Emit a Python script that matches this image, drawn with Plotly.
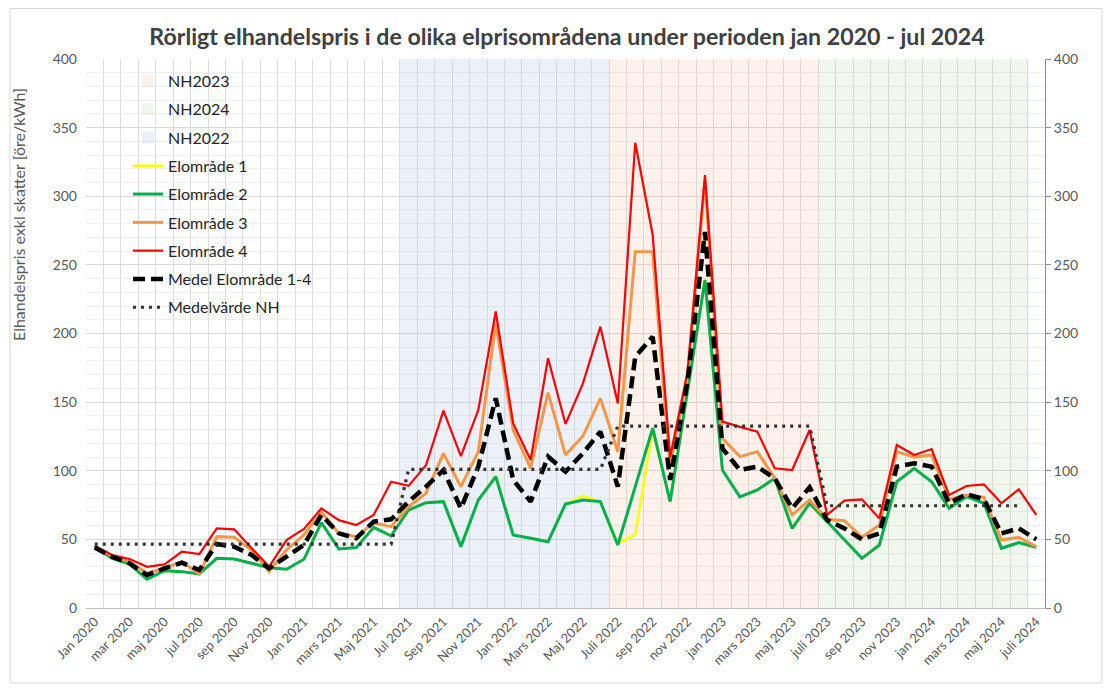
import plotly.graph_objects as go

# ---------------- data ----------------
sv_months = ["jan", "feb", "mar", "apr", "maj", "jun", "jul", "aug", "sep", "okt", "nov", "dec"]
months = [f"{sv_months[m]} {y}" for y in range(2020, 2025) for m in range(12)][:55]  # jan 2020 .. jul 2024

tick_labels = [
    "Jan 2020", "mar 2020", "maj 2020", "jul 2020", "sep 2020", "Nov 2020",
    "Jan 2021", "mars 2021", "Maj 2021", "Jul 2021", "Sep 2021", "Nov 2021",
    "Jan 2022", "Mars 2022", "Maj 2022", "Juli 2022", "sep 2022", "nov 2022",
    "jan 2023", "mars 2023", "maj 2023", "juli 2023", "sep 2023", "nov 2023",
    "jan 2024", "mars 2024", "maj 2024", "juli 2024",
]

elomrade1 = [44.7, 36.2, 32.0, 20.9, 27.2, 26.5, 24.8, 36.2, 35.7, 32.5,
             29.4, 28.2, 35.5, 62.2, 43.0, 44.0, 58.8, 52.5, 71.4, 76.7,
             77.5, 44.7, 78.7, 96.5, 53.2, 50.8, 48.3, 75.8, 81.6, 77.5,
             47.0, 53.2, 129.7, 77.5, 158.0, 239.0, 100.5, 81.0, 86.0, 94.5,
             58.0, 76.3, 63.0, 49.5, 36.2, 45.9, 92.0, 101.8, 92.0, 73.5,
             81.1, 76.3, 43.5, 47.6, 44.2]
elomrade2 = [44.7, 36.2, 32.0, 20.9, 27.2, 26.5, 24.8, 36.2, 35.7, 32.5,
             29.4, 28.2, 35.5, 62.2, 43.0, 44.0, 58.8, 52.5, 71.4, 76.7,
             77.5, 44.7, 78.7, 95.7, 53.2, 50.8, 48.3, 75.8, 78.7, 77.5,
             45.9, 88.4, 131.0, 77.5, 158.0, 239.0, 100.5, 81.0, 86.0, 94.5,
             58.0, 76.3, 63.0, 49.5, 36.2, 45.9, 92.0, 101.8, 92.0, 72.6,
             81.1, 76.3, 43.5, 47.6, 44.2]
elomrade3 = [44.7, 37.9, 33.8, 25.3, 28.9, 33.8, 24.8, 52.0, 51.5, 42.0,
             26.5, 42.3, 53.2, 70.0, 54.4, 52.0, 62.0, 59.3, 73.8, 83.5,
             112.7, 88.4, 113.9, 207.4, 129.7, 101.8, 156.9, 111.5, 125.3, 152.8,
             113.9, 259.6, 259.6, 103.0, 170.0, 312.0, 123.6, 110.3, 113.9, 94.5,
             67.8, 78.7, 64.6, 63.6, 51.5, 60.5, 113.9, 109.8, 111.5, 79.2,
             82.3, 80.6, 49.5, 51.5, 44.7]
elomrade4 = [45.4, 38.6, 35.7, 30.0, 31.8, 41.0, 39.3, 58.0, 57.3, 44.0,
             30.0, 49.5, 57.6, 72.6, 64.0, 60.5, 67.8, 92.0, 89.0, 104.0,
             143.8, 110.7, 144.3, 216.0, 134.5, 107.8, 182.0, 134.0, 163.7, 205.0,
             149.0, 339.0, 272.0, 110.0, 172.0, 315.5, 135.8, 132.0, 128.5, 101.8,
             100.5, 129.7, 67.8, 78.2, 79.2, 65.3, 118.8, 111.5, 115.8, 82.3,
             88.9, 90.1, 76.3, 86.5, 67.8]
medel = [44.0, 37.4, 32.5, 24.0, 28.9, 33.0, 27.7, 46.6, 44.7, 38.6,
         28.9, 37.4, 45.9, 67.8, 54.4, 50.8, 63.0, 64.6, 77.5, 88.4,
         100.5, 72.6, 103.0, 152.8, 93.3, 77.5, 110.3, 99.3, 112.7, 128.5,
         88.4, 183.0, 197.7, 93.3, 165.0, 274.0, 116.3, 100.5, 103.0, 94.5,
         72.6, 88.0, 64.1, 58.0, 50.0, 54.4, 103.0, 105.4, 103.0, 76.3,
         83.0, 79.2, 54.4, 58.0, 50.0]
medel_nh = [46.5] * 18 + [101.0] * 12 + [132.5] * 12 + [74.5] * 12 + [None]

nh2022_months = months[18:30]
nh2023_months = months[30:42]
nh2024_months = months[42:54]
band_height = 400

# ---------------- figure ----------------
W, H = 1096, 676          # page body has an 8px margin
PL, PT, PW, PH = 78, 51, 959, 549   # plot area in figure pixels

def px(x):
    return (x - PL) / PW

def py(y):
    return (PT + PH - y) / PH

fig = go.Figure()

bands = [
    ("NH2023", nh2023_months, "rgba(244,176,132,0.16)"),
    ("NH2024", nh2024_months, "rgba(169,208,142,0.16)"),
    ("NH2022", nh2022_months, "rgba(180,199,231,0.26)"),
]
for name, xs, col in bands:
    fig.add_trace(go.Bar(
        x=xs, y=[band_height] * len(xs), name=name, legendgroup=name,
        marker=dict(color=col, line=dict(width=0)), width=1.0,
        xaxis="x", yaxis="y", hoverinfo="skip",
    ))

lines = [
    ("Elområde 1", elomrade1, dict(color="#ffff00", width=2.5)),
    ("Elområde 2", elomrade2, dict(color="#00b050", width=3)),
    ("Elområde 3", elomrade3, dict(color="#f79646", width=3)),
    ("Elområde 4", elomrade4, dict(color="#ff0000", width=2.2)),
    ("Medel Elområde 1-4", medel, dict(color="#000000", width=4.5, dash="12px,6px")),
    ("Medelvärde NH", medel_nh, dict(color="#333333", width=3.2, dash="3px,5px")),
]
for name, ys, ln in lines:
    fig.add_trace(go.Scatter(
        x=months, y=ys, name=name, legendgroup=name, mode="lines",
        line=ln, xaxis="x", yaxis="y2", connectgaps=False,
    ))

ticktext = [tick_labels[i // 2] if i % 2 == 0 else "" for i in range(len(months))]

fig.update_layout(
    width=W, height=H,
    margin=dict(l=PL, r=W - PL - PW, t=PT, b=H - PT - PH),
    paper_bgcolor="white", plot_bgcolor="white",
    barmode="overlay", bargap=0,
    font=dict(family="Lato, 'Open Sans', sans-serif", color="#595959"),
    title=dict(
        text="<b>Rörligt elhandelspris i de olika elprisområdena under perioden jan 2020 - jul 2024</b>",
        x=559 / W, xanchor="center", xref="container", y=1 - 29 / H, yanchor="middle",
        font=dict(size=23.2, color="#404040", family="Lato, sans-serif"),
    ),
    xaxis=dict(
        type="category", categoryorder="array", categoryarray=months,
        range=[-0.5, 54.5],
        tickmode="array", tickvals=months, ticktext=ticktext,
        tickson="boundaries", ticks="", tickangle=-45,
        showgrid=True, gridcolor="#dedede", gridwidth=1,
        showline=True, linecolor="#bfbfbf", linewidth=1,
        tickfont=dict(size=13, color="#595959"),
        zeroline=False,
    ),
    yaxis=dict(
        range=[0, 400], dtick=50, tick0=0,
        showgrid=True, gridcolor="#d9d9d9", gridwidth=1,
        minor=dict(dtick=10, showgrid=True, gridcolor="#efefef"),
        showline=False, zeroline=False,
        tickfont=dict(size=14, color="#595959"),
        ticks="", ticklabelstandoff=8,
    ),
    yaxis2=dict(
        range=[0, 400], dtick=50, tick0=0, overlaying="y", side="right",
        showgrid=False, zeroline=False,
        showline=True, linecolor="#8c8c8c", linewidth=1,
        ticks="outside", ticklen=5, tickcolor="#8c8c8c",
        tickfont=dict(size=14, color="#595959"),
    ),
    legend=dict(
        x=42 / PW, y=0.991, xanchor="left", yanchor="top",
        bgcolor="rgba(0,0,0,0)", borderwidth=0,
        font=dict(size=16, color="#262626", family="Lato, sans-serif"),
        traceorder="grouped", tracegroupgap=4.5,
    ),
    annotations=[dict(
        text="Elhandelspris exkl skatter [öre/kWh]",
        xref="paper", yref="paper", x=px(10), y=py(207),
        textangle=-90, showarrow=False, xanchor="center", yanchor="middle",
        font=dict(size=16, color="#595959", family="Lato, sans-serif"),
    )],
    shapes=[dict(
        type="rect", xref="paper", yref="paper",
        x0=px(2), x1=px(1094), y0=py(675), y1=py(0.5),
        line=dict(color="#d9d9d9", width=1), fillcolor="rgba(0,0,0,0)", layer="below",
    )],
)

fig.write_html("out.html")
